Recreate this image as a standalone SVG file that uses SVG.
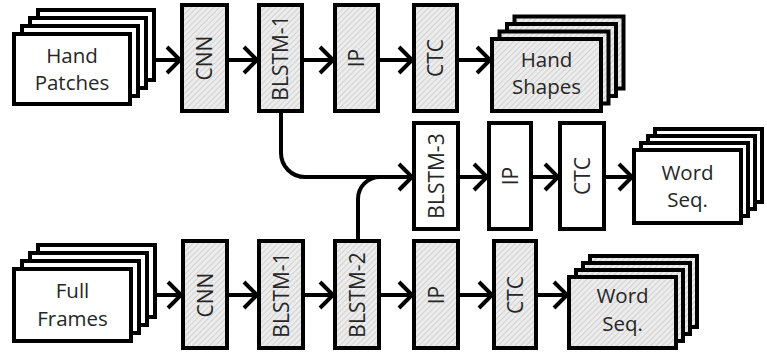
<svg xmlns="http://www.w3.org/2000/svg" width="767" height="353" viewBox="0 0 767 353">
<defs>
<pattern id="hatch" width="4" height="4" patternUnits="userSpaceOnUse" patternTransform="rotate(45)">
<rect width="4" height="4" fill="#ececec"/>
<line x1="0" y1="0" x2="0" y2="4" stroke="#c4c4c4" stroke-width="1.3"/>
</pattern>
<marker id="arr" markerUnits="userSpaceOnUse" markerWidth="20" markerHeight="32" viewBox="0 0 20 32" refX="16" refY="16" orient="auto" overflow="visible">
<path d="M3,3 L16,16 L3,29" fill="none" stroke="#000" stroke-width="4" stroke-linejoin="miter"/>
</marker>
</defs>
<style>
.box{stroke:#000;stroke-width:4;fill:#fff}
.h{fill:url(#hatch)}
.lbl{font-family:"Open Sans","Noto Sans",sans-serif;font-size:21px;fill:#262626;text-anchor:middle}
.big{font-family:"Open Sans","Noto Sans",sans-serif;font-size:20.5px;fill:#262626;text-anchor:middle}
.c{fill:none;stroke:#000;stroke-width:4;marker-end:url(#arr)}
</style>
<rect width="767" height="353" fill="#fff"/>

<!-- Top row -->
<g id="hand-patches">
<rect class="box" x="38" y="10" width="116" height="70"/>
<rect class="box" x="30" y="18" width="116" height="70"/>
<rect class="box" x="22" y="26" width="116" height="70"/>
<rect class="box" x="14" y="34" width="116" height="70"/>
<text class="big" x="72" y="63">Hand</text>
<text class="big" x="72" y="90">Patches</text>
</g>
<g id="cnn-top">
<rect class="box h" x="182" y="5" width="45" height="106"/>
<text class="lbl" transform="translate(212,58) rotate(-90)">CNN</text>
</g>
<g id="blstm1-top">
<rect class="box h" x="259" y="5" width="43" height="106"/>
<text class="lbl" transform="translate(288,58) rotate(-90)">BLSTM-1</text>
</g>
<g id="ip-top">
<rect class="box h" x="335" y="5" width="43" height="106"/>
<text class="lbl" transform="translate(364,58) rotate(-90)">IP</text>
</g>
<g id="ctc-top">
<rect class="box h" x="414" y="5" width="43" height="106"/>
<text class="lbl" transform="translate(443,58) rotate(-90)">CTC</text>
</g>
<g id="hand-shapes">
<rect class="box h" x="514.5" y="16.5" width="109" height="72"/>
<rect class="box h" x="507" y="24" width="109" height="72"/>
<rect class="box h" x="499.5" y="31.5" width="109" height="72"/>
<rect class="box h" x="492" y="39" width="109" height="72"/>
<text class="big" x="546.5" y="67">Hand</text>
<text class="big" x="546.5" y="94">Shapes</text>
</g>

<!-- Middle row -->
<g id="blstm3">
<rect class="box" x="414" y="123" width="44" height="106"/>
<text class="lbl" transform="translate(443.5,176) rotate(-90)">BLSTM-3</text>
</g>
<g id="ip-mid">
<rect class="box" x="489" y="123" width="42" height="106"/>
<text class="lbl" transform="translate(517.5,176) rotate(-90)">IP</text>
</g>
<g id="ctc-mid">
<rect class="box" x="560" y="123" width="44" height="106"/>
<text class="lbl" transform="translate(589.5,176) rotate(-90)">CTC</text>
</g>
<g id="word-seq-mid">
<rect class="box" x="655" y="129" width="107" height="73"/>
<rect class="box" x="648" y="136" width="107" height="73"/>
<rect class="box" x="641" y="143" width="107" height="73"/>
<rect class="box" x="634" y="150" width="107" height="73"/>
<text class="big" x="687.5" y="180">Word</text>
<text class="big" x="687.5" y="207">Seq.</text>
</g>

<!-- Bottom row -->
<g id="full-frames">
<rect class="box" x="38" y="245" width="117" height="72"/>
<rect class="box" x="30" y="253" width="117" height="72"/>
<rect class="box" x="22" y="261" width="117" height="72"/>
<rect class="box" x="14" y="269" width="117" height="72"/>
<text class="big" x="72.5" y="298">Full</text>
<text class="big" x="72.5" y="326">Frames</text>
</g>
<g id="cnn-bot">
<rect class="box h" x="183" y="241" width="44" height="107"/>
<text class="lbl" transform="translate(212.5,295) rotate(-90)">CNN</text>
</g>
<g id="blstm1-bot">
<rect class="box h" x="259" y="241" width="44" height="107"/>
<text class="lbl" transform="translate(288.5,295) rotate(-90)">BLSTM-1</text>
</g>
<g id="blstm2">
<rect class="box h" x="335" y="241" width="44" height="107"/>
<text class="lbl" transform="translate(364.5,295) rotate(-90)">BLSTM-2</text>
</g>
<g id="ip-bot">
<rect class="box h" x="414" y="241" width="44" height="107"/>
<text class="lbl" transform="translate(443.5,295) rotate(-90)">IP</text>
</g>
<g id="ctc-bot">
<rect class="box h" x="494" y="241" width="42" height="107"/>
<text class="lbl" transform="translate(522.5,295) rotate(-90)">CTC</text>
</g>
<g id="word-seq-bot">
<rect class="box h" x="590" y="256" width="107" height="71"/>
<rect class="box h" x="583" y="263" width="107" height="71"/>
<rect class="box h" x="576" y="270" width="107" height="71"/>
<rect class="box h" x="569" y="277" width="107" height="71"/>
<text class="big" x="622.5" y="303">Word</text>
<text class="big" x="622.5" y="331">Seq.</text>
</g>

<g id="connectors">
<path class="c" d="M156,60 H180"/>
<path class="c" d="M229,60 H257"/>
<path class="c" d="M304,60 H333"/>
<path class="c" d="M380,60 H412"/>
<path class="c" d="M459,60 H490"/>

<path class="c" d="M281,113 V153 A24,24 0 0 0 305,177 H412"/>
<path fill="none" stroke="#000" stroke-width="4" d="M358,239 V199 A22,22 0 0 1 380,177"/>
<path class="c" d="M460,177 H487"/>
<path class="c" d="M533,177 H558"/>
<path class="c" d="M606,177 H632"/>

<path class="c" d="M157,295 H181"/>
<path class="c" d="M229,295 H257"/>
<path class="c" d="M305,295 H333"/>
<path class="c" d="M381,295 H412"/>
<path class="c" d="M460,295 H492"/>
<path class="c" d="M538,295 H567"/>
</g>
</svg>
